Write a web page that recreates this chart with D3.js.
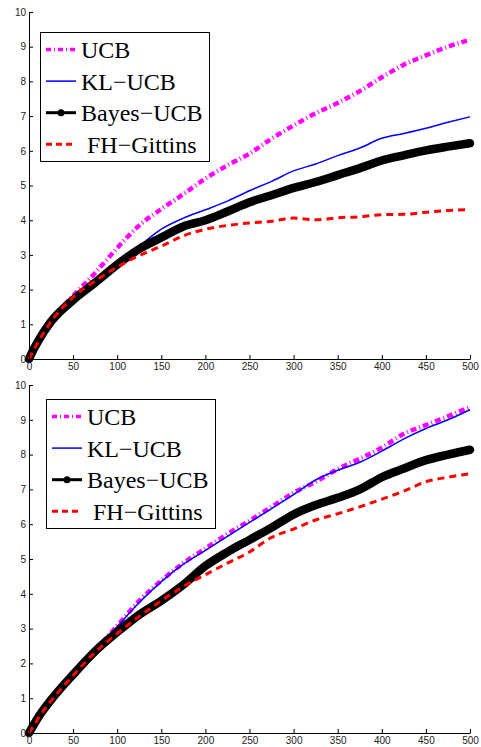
<!DOCTYPE html>
<html>
<head>
<meta charset="utf-8">
<script src="https://cdn.jsdelivr.net/npm/d3@7"></script>
<style>
  body { margin: 0; background: #fff; }
  svg { display: block; }
</style>
</head>
<body>
<svg id="svg"></svg>
<script>
var steps = [0, 5, 10, 25, 50, 75, 100, 125, 150, 175, 200, 225, 250, 275, 300, 325, 350, 375, 400, 425, 450, 475, 500]

var names = ['UCB', 'KL\u2212UCB', 'Bayes\u2212UCB', 'FH\u2212Gittins']
var xTicks = [0, 50, 100, 150, 200, 250, 300, 350, 400, 450, 500]
var yTicks = [0, 1, 2, 3, 4, 5, 6, 7, 8, 9, 10]

// top panel
var topUCB    = [0, 0.28, 0.52, 1.12, 1.82, 2.48, 3.2, 3.85, 4.32, 4.75, 5.2, 5.58, 5.92, 6.35, 6.73, 7.08, 7.38, 7.72, 8.12, 8.48, 8.75, 9.0, 9.2]
var topKLUCB  = [0, 0.27, 0.5, 1.08, 1.72, 2.25, 2.75, 3.25, 3.74, 4.06, 4.3, 4.55, 4.85, 5.12, 5.42, 5.62, 5.86, 6.08, 6.36, 6.5, 6.65, 6.82, 6.98]
var topBayes  = [0, 0.27, 0.5, 1.08, 1.7, 2.2, 2.72, 3.17, 3.5, 3.82, 4.0, 4.25, 4.52, 4.72, 4.93, 5.1, 5.3, 5.5, 5.72, 5.87, 6.01, 6.12, 6.22]
var topFH     = [0, 0.24, 0.47, 1.08, 1.78, 2.25, 2.65, 2.98, 3.25, 3.55, 3.74, 3.85, 3.92, 3.97, 4.06, 4.01, 4.07, 4.1, 4.16, 4.17, 4.23, 4.28, 4.31]

// bottom panel
var botUCB    = [0, 0.22, 0.43, 0.95, 1.7, 2.38, 3.08, 3.8, 4.38, 4.88, 5.3, 5.72, 6.1, 6.5, 6.9, 7.22, 7.58, 7.88, 8.2, 8.6, 8.85, 9.1, 9.37]
var botKLUCB  = [0, 0.22, 0.43, 0.95, 1.69, 2.36, 3.06, 3.75, 4.35, 4.85, 5.25, 5.65, 6.05, 6.45, 6.85, 7.27, 7.55, 7.78, 8.1, 8.45, 8.75, 9.0, 9.29]
var botBayes  = [0, 0.22, 0.43, 0.95, 1.68, 2.35, 2.9, 3.4, 3.8, 4.26, 4.8, 5.2, 5.55, 5.9, 6.28, 6.55, 6.76, 7.0, 7.35, 7.6, 7.84, 8.0, 8.14]
var botFH     = [0, 0.19, 0.4, 0.92, 1.65, 2.32, 2.86, 3.35, 3.8, 4.21, 4.55, 4.88, 5.2, 5.62, 5.86, 6.12, 6.3, 6.5, 6.72, 6.95, 7.22, 7.35, 7.45]

var width = 481
var height = 747

var styles = [
    {color: '#ff00ff', width: 4.5, dash: '6,3,1,3'},
    {color: '#0000ff', width: 1.5, dash: null},
    {color: '#000000', width: 8.5, dash: null},
    {color: '#ff0000', width: 3, dash: '7,5'}
]

var panels = [
    {top: 12, bottom: 359, series: [topUCB, topKLUCB, topBayes, topFH], legend: {x: 40, y: 32}},
    {top: 385, bottom: 733, series: [botUCB, botKLUCB, botBayes, botFH], legend: {x: 46, y: 399}}
]

var svg = d3.select('#svg')
    .attr('width', width)
    .attr('height', height)

var x = d3.scaleLinear().domain([0, 500]).range([29, 470])

panels.forEach(function(p) {
    var y = d3.scaleLinear().domain([0, 10]).range([p.bottom, p.top])

    var line = d3.line()
        .x(function(d, i) { return x(steps[i]) })
        .y(function(d) { return y(d) })
        .curve(d3.curveMonotoneX)

    var g = svg.append('g')

    p.series.forEach(function(values, k) {
        var s = styles[k]
        g.append('path')
            .datum(values)
            .attr('fill', 'none')
            .attr('stroke', s.color)
            .attr('stroke-width', s.width)
            .attr('stroke-dasharray', s.dash)
            .attr('stroke-linejoin', 'round')
            .attr('stroke-linecap', k == 2 ? 'round' : 'butt')
            .attr('d', line)
    })

    g.append('g')
        .attr('transform', 'translate(0,' + p.bottom + ')')
        .call(d3.axisBottom(x).tickValues(xTicks).tickSize(-4).tickSizeOuter(0).tickPadding(4))
        .call(function(a) { a.selectAll('text').attr('font-family', 'Liberation Sans, Arial, sans-serif').attr('font-size', 10).attr('fill', '#222') })

    g.append('g')
        .attr('transform', 'translate(29,0)')
        .call(d3.axisLeft(y).tickValues(yTicks).tickSize(-4).tickSizeOuter(0).tickPadding(3))
        .call(function(a) { a.selectAll('text').attr('font-family', 'Liberation Sans, Arial, sans-serif').attr('font-size', 10).attr('fill', '#222') })

    // legend
    var lg = g.append('g')
        .attr('transform', 'translate(' + p.legend.x + ',' + p.legend.y + ')')

    lg.append('rect')
        .attr('x', 0.5)
        .attr('y', 0.5)
        .attr('width', 169)
        .attr('height', 129)
        .attr('fill', '#fff')
        .attr('stroke', '#000')
        .attr('stroke-width', 1)

    names.forEach(function(n, k) {
        var s = styles[k]
        var ly = 17.5 + k * 31.6
        lg.append('line')
            .attr('x1', 6)
            .attr('x2', 36)
            .attr('y1', ly)
            .attr('y2', ly)
            .attr('stroke', s.color)
            .attr('stroke-width', k == 2 ? 3 : Math.min(s.width, 3.5))
            .attr('stroke-dasharray', k == 0 ? '5,3,1,3' : (k == 3 ? '6,4' : null))
        if (k == 2) {
            lg.append('circle')
                .attr('cx', 21)
                .attr('cy', ly)
                .attr('r', 3.5)
                .attr('fill', '#000')
        }
        lg.append('text')
            .attr('x', k == 3 ? 47 : 41)
            .attr('y', ly + 8.5)
            .attr('font-family', 'Liberation Serif, Times New Roman, serif')
            .attr('font-size', 24)
            .attr('fill', '#000')
            .text(n)
    })
})
</script>
</body>
</html>
